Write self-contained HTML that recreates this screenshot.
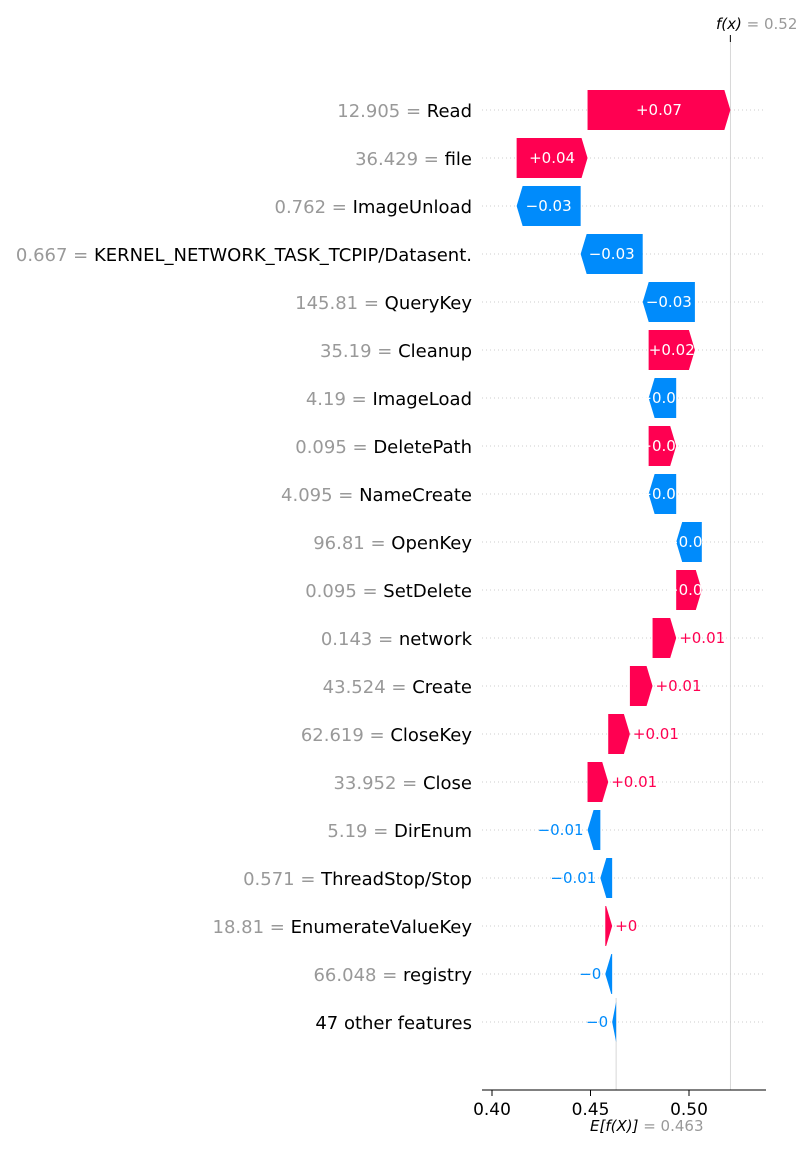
<!DOCTYPE html>
<html><head><meta charset="utf-8"><style>
html,body{margin:0;padding:0;background:#fff;}
svg{display:block;font-family:"DejaVu Sans","Liberation Sans",sans-serif;}
</style></head><body>
<svg id="chart" width="800" height="1150" viewBox="0 0 800 1150" xmlns="http://www.w3.org/2000/svg"></svg>
<script>
const featureValues = ["12.905","36.429","0.762","0.667","145.81","35.19","4.19","0.095","4.095","96.81","0.095","0.143","43.524","62.619","33.952","5.19","0.571","18.81","66.048",""];
const featureNames = ["Read","file","ImageUnload","KERNEL_NETWORK_TASK_TCPIP/Datasent.","QueryKey","Cleanup","ImageLoad","DeletePath","NameCreate","OpenKey","SetDelete","network","Create","CloseKey","Close","DirEnum","ThreadStop/Stop","EnumerateValueKey","registry","47 other features"];
const shapValues = [0.0725,0.036,-0.0325,-0.0315,-0.0265,0.0235,-0.014,0.014,-0.014,-0.013,0.013,0.012,0.0115,0.011,0.0105,-0.0065,-0.006,0.0035,-0.0035,-0.002];
const valueLabels = ["+0.07","+0.04","\u22120.03","\u22120.03","\u22120.03","+0.02","\u22120.01","+0.01","\u22120.01","\u22120.01","+0.01","+0.01","+0.01","+0.01","+0.01","\u22120.01","\u22120.01","+0","\u22120","\u22120"];
const baseValue = 0.463;
const fxLabel = "0.52";
const xTicks = [0.40,0.45,0.50];
const xTickLabels = ["0.40","0.45","0.50"];

const NS="http://www.w3.org/2000/svg";
const svg=document.getElementById('chart');
const X=v=>492+(v-0.40)*1970;
const Y=i=>110+i*48;
function el(t,a,p){const e=document.createElementNS(NS,t);for(const k in a)e.setAttribute(k,a[k]);(p||svg).appendChild(e);return e;}
const PINK="#ff0051",BLUE="#008bfb";
const n=shapValues.length;
const starts=new Array(n),ends=new Array(n);
let cur=baseValue;
for(let i=n-1;i>=0;i--){starts[i]=cur;cur+=shapValues[i];ends[i]=cur;}
const fx=cur;
for(let i=0;i<n;i++){
  const l=el('line',{x1:482,x2:766,y1:Y(i),y2:Y(i),stroke:'#ccc','stroke-width':1,'stroke-dasharray':'1,3'});
  
  
}
let l=el('line',{x1:X(baseValue),x2:X(baseValue),y1:Y(n-1)-24,y2:1090,stroke:'#ccc','stroke-width':0.8});

l=el('line',{x1:X(fx),x2:X(fx),y1:42,y2:1090,stroke:'#ccc','stroke-width':0.8});

for(let i=0;i<n;i++){
  const y=Y(i),h=40,v=shapValues[i],pos=v>=0;
  const x0=X(starts[i]),x1=X(ends[i]);
  const w=Math.abs(x1-x0),hl=Math.min(6,w);
  let pts;
  if(pos) pts=[[x0,y-h/2],[x1-hl,y-h/2],[x1,y],[x1-hl,y+h/2],[x0,y+h/2]];
  else pts=[[x0,y-h/2],[x1+hl,y-h/2],[x1,y],[x1+hl,y+h/2],[x0,y+h/2]];
  const p=el('polygon',{points:pts.map(q=>q.join(',')).join(' '),fill:pos?PINK:BLUE});
  
  
  let t;
  if(Math.abs(v)>=0.0125){
    t=el('text',{x:(x0+x1)/2,y:y+5,'text-anchor':'middle','font-size':15,fill:'#fff'});
  } else if(pos){
    t=el('text',{x:x1+3,y:y+5,'text-anchor':'start','font-size':15,fill:PINK});
  } else {
    t=el('text',{x:x1-4,y:y+5,'text-anchor':'end','font-size':15,fill:BLUE});
  }
  t.textContent=valueLabels[i];
  
  
  const ft=el('text',{x:472,y:y+7,'text-anchor':'end','font-size':18});
  
  
  if(featureValues[i]){
    const a=el('tspan',{fill:'#999'},ft);a.textContent=featureValues[i]+' = ';
  }
  const b=el('tspan',{fill:'#000'},ft);b.textContent=featureNames[i];
}
l=el('line',{x1:482,x2:766,y1:1090,y2:1090,stroke:'#000','stroke-width':1});

xTicks.forEach((v,k)=>{
  const tk=el('line',{x1:X(v),x2:X(v),y1:1090,y2:1096,stroke:'#000'});
  
  const tt=el('text',{x:X(v),y:1115,'text-anchor':'middle','font-size':17,fill:'#000'});
  tt.textContent=xTickLabels[k];
  
});
let bt=el('text',{x:590,y:1131,'text-anchor':'start','font-size':15});

let s=el('tspan',{fill:'#000','font-style':'italic'},bt);s.textContent='E[f(X)]';
s=el('tspan',{fill:'#999'},bt);s.textContent=' = '+baseValue;
const tk2=el('line',{x1:X(fx),x2:X(fx),y1:35,y2:42,stroke:'#000'});

let ftx=el('text',{x:716,y:29,'text-anchor':'start','font-size':15});

s=el('tspan',{fill:'#000','font-style':'italic'},ftx);s.textContent='f(x)';
s=el('tspan',{fill:'#999'},ftx);s.textContent=' = '+fxLabel;
</script>
</body></html>
